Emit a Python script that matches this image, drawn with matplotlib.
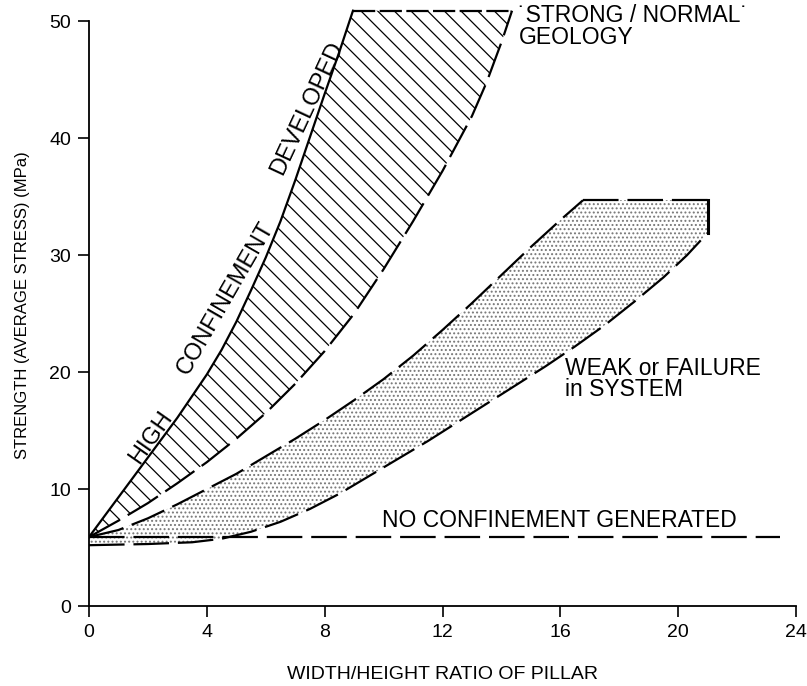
import matplotlib
matplotlib.use("Agg")
import matplotlib.pyplot as plt

# pillar strength vs width/height ratio
strong_upper_x = [0, 1, 2, 3, 4, 4.5, 5, 5.5, 6, 6.5, 7, 7.5, 8, 8.5, 8.96]
strong_upper_y = [5.9, 9.3, 12.7, 16.1, 19.8, 21.9, 24.3, 27.0, 29.8, 32.9, 36.4, 40.1, 43.8, 47.4, 50.9]
strong_lower_x = [0, 1, 2, 3, 4, 5, 6, 7, 8, 9, 10, 11, 12, 13, 13.5, 14, 14.36]
strong_lower_y = [5.9, 7.3, 8.8, 10.5, 12.3, 14.3, 16.5, 19.0, 21.8, 25.0, 28.8, 32.9, 37.2, 41.9, 44.8, 48.2, 50.9]
strong_top = 50.9

weak_upper_x = [0, 1, 2, 3, 4, 5, 6, 7, 8, 9, 10, 11, 12, 13, 14, 15, 16, 16.77]
weak_upper_y = [5.9, 6.5, 7.5, 8.7, 10.0, 11.3, 12.8, 14.3, 15.9, 17.6, 19.4, 21.4, 23.6, 25.9, 28.3, 30.7, 33.0, 34.7]
weak_lower_x = [0, 2, 3.5, 4.5, 5.5, 6.5, 7.5, 8.5, 9.5, 10.5, 11.5, 12.5, 13.5, 14.5, 15.5, 16.5, 17.5, 18.5, 19.5, 20.3, 21.0]
weak_lower_y = [5.2, 5.3, 5.45, 5.75, 6.35, 7.2, 8.3, 9.6, 11.1, 12.6, 14.1, 15.7, 17.3, 18.9, 20.5, 22.2, 24.0, 26.0, 28.1, 30.0, 31.9]
weak_top = 34.7
weak_right = 21.0

no_conf_x = [0, 23.45]
no_conf_y = [5.9, 5.9]

xticks = [0, 4, 8, 12, 16, 20, 24]
yticks = [0, 10, 20, 30, 40, 50]

plt.rcParams['font.family'] = ['Liberation Sans', 'DejaVu Sans']
plt.rcParams['hatch.linewidth'] = 0.9
narrow = ['Liberation Sans Narrow', 'Liberation Sans', 'DejaVu Sans']

fig = plt.figure(figsize=(8.07, 6.86), dpi=100)
ax = fig.add_axes([0.1103, 0.1166, 0.8761, 0.878])

dash = (16, 4)
lw = 1.6

# hatched band: strong / normal geology
px = strong_upper_x + [strong_lower_x[-1]] + strong_lower_x[::-1]
py = strong_upper_y + [strong_top] + strong_lower_y[::-1]
ax.fill(px, py, facecolor='none', edgecolor='black', hatch='\\\\', linewidth=0)
ax.plot(strong_upper_x, strong_upper_y, color='black', lw=lw)
ax.plot(strong_lower_x, strong_lower_y, color='black', lw=lw, dashes=dash)
ax.plot([strong_upper_x[-1], strong_lower_x[-1]], [strong_top, strong_top], color='black', lw=lw, dashes=(10, 2))

# stippled band: weak / failure in system
wx = weak_upper_x + [weak_right] + weak_lower_x[::-1]
wy = weak_upper_y + [weak_top] + weak_lower_y[::-1]
ax.fill(wx, wy, facecolor='none', edgecolor='#777777', hatch='....', linewidth=0)
ax.plot(weak_upper_x, weak_upper_y, color='black', lw=lw, dashes=dash)
ax.plot([weak_upper_x[-1], weak_right], [weak_top, weak_top], color='black', lw=lw, dashes=dash)
ax.plot([weak_right, weak_right], [weak_top, weak_lower_y[-1]], color='black', lw=lw + 0.6)
ax.plot(weak_lower_x, weak_lower_y, color='black', lw=lw, dashes=dash)

ax.plot(no_conf_x, no_conf_y, color='black', lw=lw, dashes=dash)

# annotations
ax.text(2.1, 14.4, 'HIGH', rotation=55, ha='center', va='center', fontsize=17)
ax.text(4.65, 26.3, 'CONFINEMENT', rotation=60, ha='center', va='center', fontsize=17)
ax.text(7.4, 42.6, 'DEVELOPED', rotation=65, ha='center', va='center', fontsize=17)
ax.text(14.56, 50.5, '\u02d9STRONG / NORMAL\u02d9', ha='left', va='center', fontsize=16.5)
ax.text(14.6, 48.6, 'GEOLOGY', ha='left', va='center', fontsize=16.5)
ax.text(16.16, 20.3, 'WEAK or FAILURE', ha='left', va='center', fontsize=16.5)
ax.text(16.16, 18.5, 'in SYSTEM', ha='left', va='center', fontsize=16.5)
ax.text(9.95, 7.35, 'NO CONFINEMENT GENERATED', ha='left', va='center', fontsize=16.5)

ax.set_xlim(0, 24)
ax.set_ylim(0, 51.5)
ax.set_xticks(xticks)
ax.set_yticks(yticks)
ax.set_xticklabels([str(t) for t in xticks], family=narrow, fontsize=14)
ax.set_yticklabels([str(t) for t in yticks], family=narrow, fontsize=14)
ax.tick_params(direction='out', length=8, width=1.2, pad=5)
ax.spines['top'].set_visible(False)
ax.spines['right'].set_visible(False)
ax.spines['left'].set_bounds(0, 50)
ax.spines['bottom'].set_bounds(0, 24)
ax.spines['left'].set_linewidth(1.3)
ax.spines['bottom'].set_linewidth(1.3)

ax.set_xlabel('WIDTH/HEIGHT RATIO OF PILLAR', family=narrow, fontsize=14, labelpad=18)
ax.set_ylabel('STRENGTH (AVERAGE STRESS) (MPa)', family=narrow, fontsize=12, labelpad=14)

fig.savefig('out.png', dpi=100)
